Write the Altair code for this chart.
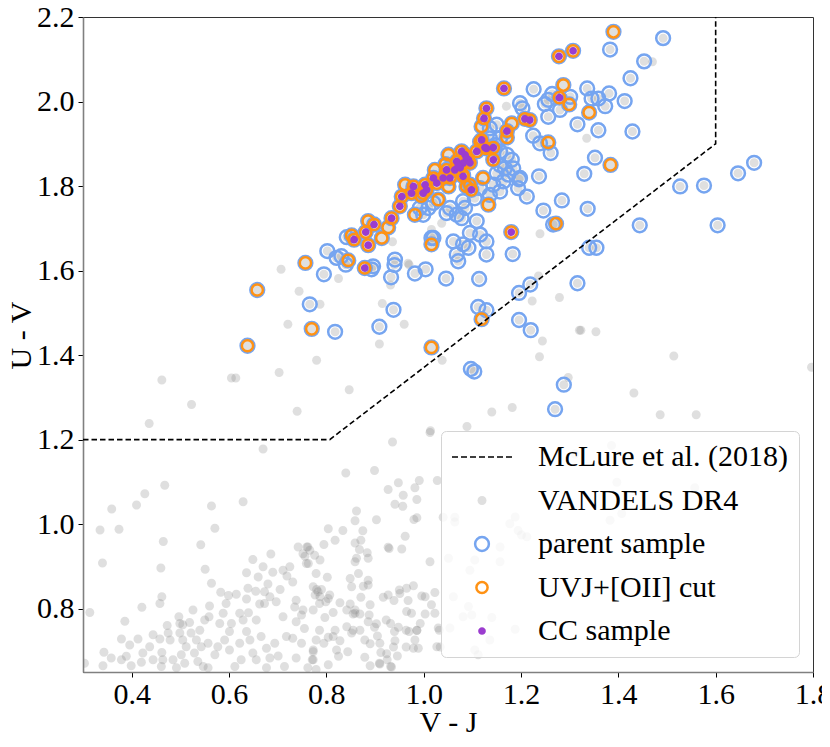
import altair as alt
import pandas as pd

KINDS = ["McLure et al. (2018)", "VANDELS DR4", "parent sample", "UVJ+[OII] cut", "CC sample"]

# McLure et al. (2018) selection boundary (V-J, U-V)
box_x = [0.3, 0.807, 1.6, 1.6]
box_y = [1.2, 1.2, 1.9, 2.2]

# CC sample (also in UVJ+[OII] cut and parent sample)
cc_pts = [
    (1.307, 2.120), (1.278, 2.107), (1.165, 2.031), (1.279, 2.009), (1.208, 1.959), (1.218, 1.956),
    (1.171, 1.930), (1.129, 1.984), (1.124, 1.960), (1.180, 1.691), (1.078, 1.882), (1.109, 1.882),
    (1.126, 1.891), (1.143, 1.891), (1.143, 1.862), (1.068, 1.858), (1.081, 1.854), (1.092, 1.862),
    (1.047, 1.838), (1.064, 1.838), (1.075, 1.843), (1.054, 1.819), (1.040, 1.819), (1.081, 1.823),
    (1.020, 1.819), (1.027, 1.807), (1.003, 1.803), (1.006, 1.791), (0.979, 1.799), (0.975, 1.783),
    (0.999, 1.783), (0.955, 1.775), (0.951, 1.752), (0.934, 1.724), (1.098, 1.791), (0.898, 1.709),
    (0.881, 1.691), (0.886, 1.660), (0.857, 1.673), (0.879, 1.606), (1.119, 1.909), (1.129, 1.889),
    (1.085, 1.874), (1.088, 1.866), (1.095, 1.855), (1.071, 1.848),
]

# UVJ+[OII] cut, not in CC sample
oii_pts = [
    (1.390, 2.165), (1.384, 1.850), (1.272, 1.711), (1.119, 1.485), (1.016, 1.418), (1.287, 2.039),
    (1.299, 1.993), (1.340, 1.974), (1.181, 1.948), (1.256, 1.903), (1.119, 1.941), (1.171, 1.915),
    (1.116, 1.905), (1.023, 1.838), (0.962, 1.803), (0.982, 1.732), (0.914, 1.677), (1.095, 1.803),
    (1.081, 1.826), (1.133, 1.756), (1.016, 1.662), (1.030, 1.768), (1.122, 1.819), (0.927, 1.702),
    (0.886, 1.717), (0.852, 1.683), (0.845, 1.624), (0.757, 1.618), (0.658, 1.554), (0.770, 1.462),
    (0.638, 1.422), (1.051, 1.874), (1.088, 1.799), (1.051, 1.799), (0.995, 1.776), (1.045, 1.852),
]

# parent sample only
parent_pts = [
    (1.492, 2.150), (1.383, 2.123), (1.453, 2.095), (1.425, 2.055), (1.413, 2.001), (1.429, 1.929),
    (1.679, 1.855), (1.646, 1.830), (1.527, 1.799), (1.576, 1.801), (1.604, 1.707), (1.444, 1.707),
    (1.352, 1.867), (1.330, 1.829), (1.284, 1.766), (1.337, 1.746), (1.246, 1.742), (1.266, 1.709),
    (1.183, 1.639), (1.340, 1.654), (1.355, 1.654), (1.316, 1.570), (1.219, 1.567), (1.196, 1.547),
    (1.114, 1.580), (1.046, 1.581), (1.112, 1.514), (1.129, 1.506), (1.196, 1.483), (1.220, 1.459),
    (1.097, 1.367), (1.104, 1.361), (1.288, 1.330), (1.270, 1.272),
    (1.226, 2.029), (1.264, 2.018), (1.249, 1.994), (1.280, 1.980), (1.301, 2.011), (1.336, 2.031),
    (1.345, 2.007), (1.359, 2.007), (1.373, 1.989), (1.381, 2.019), (1.316, 1.946), (1.359, 1.932),
    (1.256, 1.964), (1.203, 1.984), (1.225, 1.919), (1.261, 1.878), (1.239, 1.901), (1.237, 1.823),
    (1.196, 1.816), (1.212, 1.775),
    (1.256, 2.004), (1.157, 1.882), (1.171, 1.874), (1.181, 1.862), (1.157, 1.850), (1.167, 1.842),
    (1.150, 1.830), (1.174, 1.827), (1.184, 1.842), (1.164, 1.811), (1.143, 1.803), (1.198, 1.819),
    (1.194, 1.795), (1.157, 1.787), (1.136, 1.779), (1.116, 1.795), (1.105, 1.771), (1.081, 1.764),
    (1.085, 1.748), (1.054, 1.748), (1.068, 1.732), (1.078, 1.724), (1.047, 1.736), (1.020, 1.760),
    (0.992, 1.748), (0.999, 1.732), (1.109, 1.717), (1.116, 1.685), (1.129, 1.669), (1.095, 1.689),
    (1.092, 1.654), (1.061, 1.669), (1.081, 1.662), (1.020, 1.677), (1.136, 1.937), (1.150, 1.945),
    (1.136, 1.913), (1.157, 1.913), (1.147, 1.897), (1.198, 1.996),
    (0.842, 1.679), (0.802, 1.646), (0.821, 1.630), (0.831, 1.634), (0.840, 1.614), (0.896, 1.610),
    (0.893, 1.603), (0.940, 1.613), (0.933, 1.584), (0.982, 1.593), (0.795, 1.591), (0.766, 1.520),
    (0.818, 1.455), (0.938, 1.507), (0.909, 1.467), (1.004, 1.603), (0.941, 1.626), (1.016, 1.677),
    (1.068, 1.638), (1.129, 1.638), (1.071, 1.622), (1.010, 1.748),
]

# VANDELS DR4 galaxies outside the parent sample
field_pts = [
    (0.707, 1.603), (0.744, 1.551), (0.721, 1.473), (0.780, 1.388), (0.703, 1.359), (0.605, 1.346),
    (0.614, 1.346), (0.825, 1.581), (0.787, 1.520), (0.915, 1.522), (0.960, 1.473), (0.909, 1.426),
    (0.936, 1.668), (0.970, 1.614), (0.932, 1.566), (0.462, 1.341), (0.523, 1.283), (0.436, 1.238),
    (0.740, 1.267), (0.847, 1.318), (1.038, 1.388), (1.223, 1.528), (1.244, 1.433), (1.238, 1.396),
    (1.279, 1.536), (1.320, 1.459), (1.297, 1.347), (1.182, 1.276), (1.140, 1.265), (1.089, 1.231),
    (1.014, 1.221), (0.936, 1.194), (0.670, 1.178), (0.968, 1.617),
    (1.170, 1.989), (1.335, 1.913), (1.470, 2.094), (1.239, 1.687), (1.037, 1.712), (1.016, 1.697),
    (1.236, 1.587), (1.323, 1.459), (1.354, 1.455), (1.514, 1.398), (1.797, 1.371), (1.432, 1.310),
    (1.486, 1.259), (1.560, 1.259), (1.013, 1.217),
    (0.840, 1.121), (0.899, 1.127), (0.927, 1.082), (0.948, 1.098), (0.958, 1.068), (0.941, 1.047),
    (0.957, 1.042), (0.982, 1.086), (0.991, 1.103), (0.986, 1.058), (1.028, 1.103),
    (0.468, 1.092), (0.427, 1.072), (0.410, 1.045), (0.359, 1.036), (0.335, 0.986), (0.374, 0.988),
    (0.465, 0.959), (0.340, 0.908), (0.460, 0.896), (0.564, 1.043), (0.629, 1.053), (0.571, 0.990),
    (0.542, 0.951), (0.551, 0.893), (0.564, 0.860), (0.462, 0.828), (0.458, 0.812), (0.421, 0.803),
    (0.314, 0.791), (0.386, 0.770),
    (0.862, 1.031), (0.859, 1.008), (0.903, 1.010), (0.980, 1.011), (0.804, 0.989), (0.834, 0.985),
    (0.875, 0.984), (0.962, 0.971), (0.818, 0.962), (0.795, 0.952), (0.859, 0.955), (0.871, 0.962),
    (0.868, 0.940), (0.929, 0.942), (0.955, 0.941), (0.927, 0.945),
    (0.760, 0.946), (0.766, 0.938), (0.756, 0.924), (0.776, 0.926), (0.787, 0.915), (0.763, 0.907),
    (0.859, 0.911), (0.862, 0.919), (0.884, 0.932), (0.886, 0.919), (1.013, 0.911),
    (0.802, 0.874), (0.849, 0.871), (0.866, 0.883), (0.886, 0.867), (0.852, 0.852), (0.876, 0.853),
    (0.886, 0.856), (0.780, 0.845), (0.790, 0.845), (0.777, 0.832), (0.787, 0.828), (0.804, 0.824),
    (0.799, 0.816), (0.807, 0.832), (0.828, 0.814), (0.842, 0.797), (0.859, 0.797), (0.859, 0.789),
    (0.871, 0.827), (0.890, 0.809), (0.888, 0.785), (0.886, 0.769), (0.869, 0.749),
    (0.917, 0.827), (0.927, 0.832), (0.939, 0.819), (0.950, 0.844), (0.951, 0.836), (0.965, 0.848),
    (0.979, 0.854), (0.968, 0.819), (0.965, 0.793), (0.975, 0.789), (1.003, 0.828), (1.016, 0.809),
    (1.023, 0.789), (1.023, 0.838), (0.923, 0.773), (0.932, 0.765), (0.903, 0.764), (0.879, 0.726),
    (0.905, 0.735), (0.910, 0.718), (0.940, 0.746), (0.964, 0.749), (0.970, 0.746), (0.986, 0.749),
    (0.993, 0.765), (0.982, 0.726), (0.964, 0.709), (0.979, 0.706), (0.989, 0.706), (1.027, 0.710),
    (1.032, 0.749), (0.946, 0.688), (0.912, 0.696), (0.909, 0.671), (0.925, 0.679), (0.932, 0.663),
    (0.844, 0.698), (0.821, 0.702), (0.825, 0.687), (0.773, 0.698), (0.771, 0.679), (0.804, 0.667),
    (0.814, 0.734), (0.795, 0.718), (0.842, 0.757), (0.852, 0.742), (0.855, 0.749), (0.818, 0.749),
    (0.797, 0.779), (0.814, 0.791), (0.828, 0.724), (0.804, 0.732), (0.849, 0.811), (0.855, 0.787),
    (0.869, 0.787), (0.890, 0.717), (0.879, 0.685), (0.890, 0.665), (0.910, 0.669), (0.924, 0.693),
    (0.934, 0.662), (0.938, 0.709), (0.948, 0.756), (0.941, 0.724), (0.899, 0.756),
    (1.040, 1.016), (1.064, 1.016), (1.064, 1.005), (1.194, 0.985), (1.201, 0.974), (1.212, 0.970),
    (1.051, 0.919), (1.105, 0.915), (1.157, 0.911), (1.095, 0.891), (1.177, 1.001), (1.188, 1.017),
    (1.157, 0.946), (1.061, 0.828), (1.092, 0.805), (1.099, 0.785), (1.081, 0.781), (1.030, 0.754),
    (1.054, 0.754), (1.140, 0.779), (1.188, 0.751), (1.105, 0.702), (1.112, 0.691), (1.136, 0.726),
    (1.386, 1.186), (1.311, 1.166), (1.397, 1.099), (1.407, 1.025), (1.383, 1.009), (1.557, 1.086),
    (0.986, 1.015), (0.996, 0.830), (1.003, 0.787), (0.986, 0.748), (1.034, 0.709),
    (0.583, 0.839), (0.599, 0.831), (0.615, 0.834), (0.636, 0.823), (0.560, 0.806), (0.594, 0.812),
    (0.649, 0.916), (0.686, 0.929), (0.636, 0.885), (0.670, 0.899), (0.660, 0.875), (0.680, 0.858),
    (0.639, 0.848), (0.655, 0.841), (0.673, 0.840), (0.690, 0.886), (0.711, 0.891), (0.725, 0.899),
    (0.719, 0.877), (0.731, 0.863), (0.705, 0.845), (0.697, 0.816), (0.663, 0.811), (0.673, 0.812),
    (0.640, 0.790), (0.622, 0.789), (0.605, 0.765), (0.581, 0.765), (0.559, 0.781), (0.550, 0.773),
    (0.519, 0.767), (0.497, 0.781), (0.499, 0.765), (0.473, 0.760), (0.444, 0.738), (0.458, 0.728),
    (0.413, 0.728), (0.379, 0.728), (0.396, 0.714), (0.343, 0.697), (0.358, 0.683), (0.389, 0.687),
    (0.420, 0.673), (0.437, 0.710), (0.462, 0.696), (0.464, 0.679), (0.479, 0.726), (0.499, 0.742),
    (0.505, 0.726), (0.522, 0.742), (0.512, 0.710), (0.533, 0.726), (0.529, 0.695), (0.540, 0.749),
    (0.543, 0.710), (0.557, 0.718), (0.502, 0.691), (0.485, 0.679), (0.509, 0.671), (0.536, 0.675),
    (0.547, 0.663), (0.571, 0.691), (0.577, 0.710), (0.591, 0.726), (0.601, 0.702), (0.625, 0.679),
    (0.622, 0.718), (0.643, 0.726), (0.649, 0.695), (0.656, 0.679), (0.677, 0.706), (0.684, 0.683),
    (0.701, 0.688), (0.694, 0.718), (0.718, 0.734), (0.738, 0.769), (0.711, 0.781), (0.731, 0.730),
    (0.749, 0.718), (0.738, 0.683), (0.773, 0.702), (0.773, 0.679), (0.779, 0.726), (0.786, 0.749),
    (0.755, 0.753), (0.749, 0.785), (0.735, 0.804), (0.752, 0.797), (0.773, 0.797), (0.786, 0.812),
    (0.783, 0.840), (0.773, 0.852), (0.779, 0.883), (0.759, 0.907), (0.752, 0.930), (0.762, 0.946),
    (0.742, 0.946), (0.738, 0.820), (0.684, 0.828), (0.656, 0.773), (0.629, 0.773), (0.636, 0.746),
    (0.666, 0.734), (0.601, 0.746), (0.588, 0.789), (0.526, 0.797), (0.505, 0.762), (0.475, 0.742),
    (0.423, 0.695), (0.444, 0.679), (0.379, 0.679), (0.341, 0.665), (0.303, 0.671), (0.399, 0.665),
    (0.461, 0.663), (0.492, 0.660), (0.557, 0.660), (0.612, 0.663), (0.677, 0.660), (0.714, 0.663),
    (0.762, 0.660), (0.779, 0.656),
]

x_ticks = [0.4, 0.6, 0.8, 1.0, 1.2, 1.4, 1.6, 1.8]
y_ticks = [0.8, 1.0, 1.2, 1.4, 1.6, 1.8, 2.0, 2.2]

BLUE = "#76a5f0"
ORANGE = "#ff9214"
PURPLE = "#9b3ccf"
GRAY = "rgba(128,128,128,0.25)"
FONT = "Liberation Serif"


def frame(pts, kind):
    return pd.DataFrame({"x": [p[0] for p in pts], "y": [p[1] for p in pts], "kind": kind})


cc_df = frame(cc_pts, "CC sample")
oii_df = frame(oii_pts + cc_pts, "UVJ+[OII] cut")
par_df = frame(parent_pts + oii_pts + cc_pts, "parent sample")
gray_df = frame(field_pts + parent_pts + oii_pts + cc_pts, "VANDELS DR4")
box_df = pd.DataFrame({"x": box_x, "y": box_y, "i": list(range(len(box_x)))})


def circ(r):
    return f"M{r},0A{r},{r},0,1,1,{-r},0A{r},{r},0,1,1,{r},0Z"


dash_path = "".join(f"M{-3 + 0.9 * k:.2f},-0.075h0.6v0.15h-0.6Z" for k in range(7))

LEG = alt.Legend(
    title=None, orient="none", legendX=358, legendY=414,
    labelFont=FONT, labelFontSize=30, labelColor="black", labelLimit=500,
    labelOffset=41, symbolOffset=15, padding=11, rowPadding=13.5,
    symbolSize=400, symbolStrokeWidth=2.5,
    fillColor="rgba(255,255,255,0.8)", strokeColor="#d4d4d4", cornerRadius=5,
)

shape_enc = alt.Shape("kind:N", scale=alt.Scale(domain=KINDS, range=[dash_path, circ(0.45), circ(0.69), circ(0.56), circ(0.385)]), legend=LEG)
fill_enc = alt.Fill("kind:N", scale=alt.Scale(domain=KINDS, range=["black", GRAY, "transparent", "transparent", PURPLE]), legend=LEG)
stroke_enc = alt.Stroke("kind:N", scale=alt.Scale(domain=KINDS, range=["transparent", "transparent", BLUE, ORANGE, "transparent"]), legend=LEG)

AX = dict(
    format=".1f", labelFlush=False, labelFont=FONT, labelFontSize=30, labelColor="black",
    titleFont=FONT, titleFontSize=30, titleFontWeight="normal", titleColor="black",
    tickColor="black", tickSize=5, tickWidth=1, domainColor="#808080", domainWidth=1.6,
    grid=False, labelOverlap=False,
)

X = alt.X("x:Q", scale=alt.Scale(domain=[0.3, 1.8], nice=False, zero=False),
          axis=alt.Axis(values=x_ticks, title="V - J", titleY=59, titleBaseline="alphabetic",
                        labelPadding=2, **AX))
Y = alt.Y("y:Q", scale=alt.Scale(domain=[0.65, 2.2], nice=False, zero=False),
          axis=alt.Axis(values=y_ticks, title="U - V", titleX=-53, titleY=318,
                        titleBaseline="alphabetic", titleAngle=270, labelPadding=4, **AX))


def pts_layer(df):
    return alt.Chart(df).mark_point(size=400, opacity=1, strokeWidth=2.5, clip=True).encode(
        x=X, y=Y, shape=shape_enc, fill=fill_enc, stroke=stroke_enc
    )


line = alt.Chart(box_df).mark_line(color="black", strokeWidth=1.6, strokeDash=[5.5, 3], clip=True).encode(
    x=X, y=Y, order="i:Q"
)

chart = alt.layer(
    pts_layer(gray_df), pts_layer(par_df), pts_layer(oii_df), pts_layer(cc_df), line
).properties(
    width=730, height=655,
    autosize=alt.AutoSizeParams(type="none"),
    padding={"left": 75, "top": 9, "right": 9, "bottom": 65},
).configure_view(stroke="#333333", strokeWidth=1)

chart.save("out.html", embed_options={"renderer": "svg", "actions": False})
